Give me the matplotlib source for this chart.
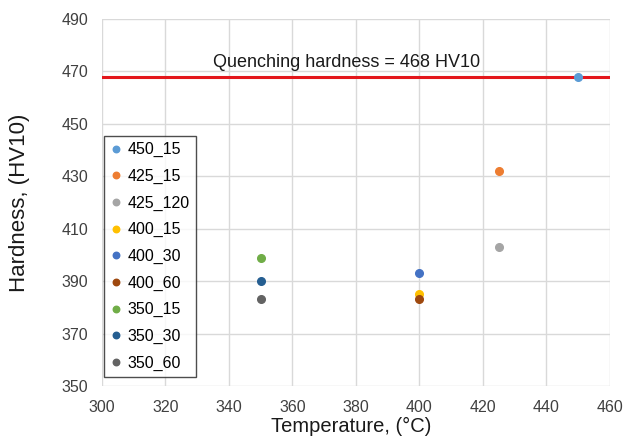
import matplotlib
matplotlib.use("Agg")
import matplotlib.pyplot as plt

labels = ["450_15", "425_15", "425_120", "400_15", "400_30", "400_60", "350_15", "350_30", "350_60"]
temps = [450, 425, 425, 400, 400, 400, 350, 350, 350]
hardness = [468, 432, 403, 385, 393, 383, 399, 390, 383]
colors = ["#5B9BD5", "#ED7D31", "#A5A5A5", "#FFC000", "#4472C4", "#9E480E", "#70AD47", "#255E91", "#636363"]
quench = 468

plt.rcParams['font.family'] = ['Liberation Sans', 'DejaVu Sans']
fig = plt.figure(figsize=(6.23, 4.37), dpi=100)
ax = fig.add_axes([0.1637, 0.1167, 0.8154, 0.8398])

for lab, t, h, c in zip(labels, temps, hardness, colors):
    ax.plot([t], [h], 'o', color=c, markersize=5.5, label=lab, zorder=3)

ax.axhline(quench, color="#E3161B", linewidth=2.2, zorder=2)
ax.text(335, quench + 3.6, "Quenching hardness = 468 HV10", ha="left", va="baseline",
        fontsize=13, color="#1a1a1a")

ax.set_xlim(300, 460)
ax.set_ylim(350, 490)
ax.set_xticks(range(300, 461, 20))
ax.set_yticks(range(350, 491, 20))
ax.grid(True, color="#D9D9D9", linewidth=1)
ax.set_axisbelow(True)
for s in ax.spines.values():
    s.set_visible(False)
ax.tick_params(length=0, labelsize=11.5, colors="#404040")
ax.tick_params(axis='y', pad=10)
ax.tick_params(axis='x', pad=10)
ax.set_xlabel("Temperature, (°C)", fontsize=14.5, color="#1a1a1a")
ax.set_ylabel("Hardness, (HV10)", fontsize=16, color="#1a1a1a")
ax.xaxis.label.set_va('center')
ax.yaxis.label.set_va('center')
ax.xaxis.set_label_coords(0.49, -0.11)
ax.yaxis.set_label_coords(-0.163, 0.5)

leg = ax.legend(loc="lower left", bbox_to_anchor=(0.004, 0.0246), borderaxespad=0,
                frameon=True, fancybox=False, edgecolor="#202020", fontsize=11.5,
                handletextpad=0.35, labelspacing=0.72, borderpad=0.4,
                handlelength=0.7, markerscale=0.85)
leg.get_frame().set_linewidth(1.0)

fig.savefig("out.png", dpi=100)
